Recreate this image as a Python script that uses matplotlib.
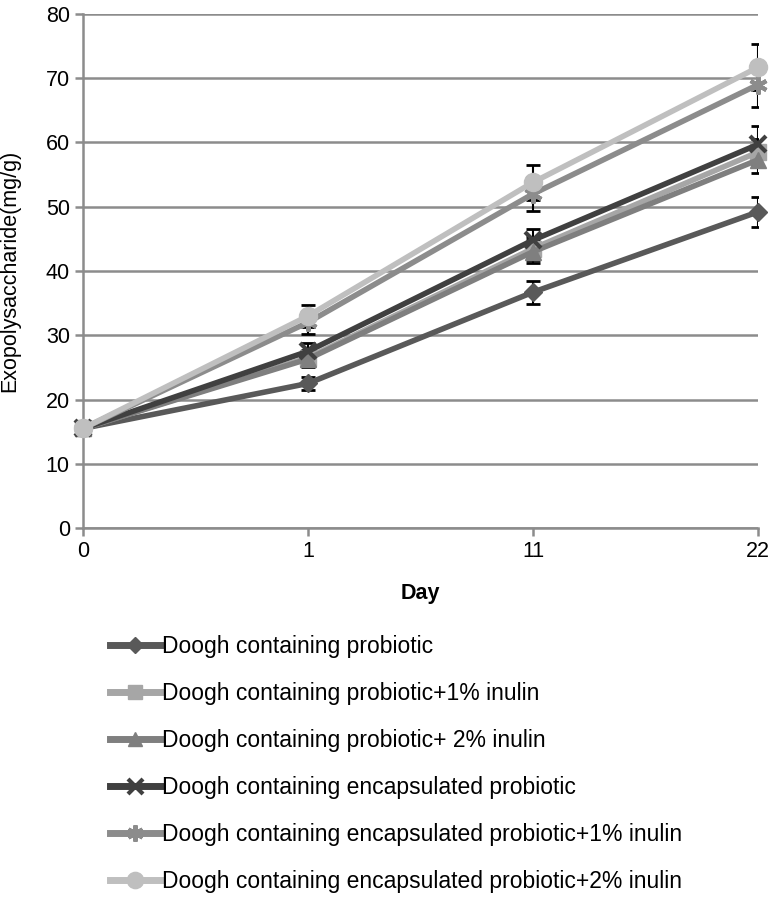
import matplotlib
matplotlib.use("Agg")
import matplotlib.pyplot as plt
import numpy as np

plt.rcParams['font.family'] = ['Liberation Sans', 'DejaVu Sans']

days = ["0", "1", "11", "22"]
labels = [
    "Doogh containing probiotic",
    "Doogh containing probiotic+1% inulin",
    "Doogh containing probiotic+ 2% inulin",
    "Doogh containing encapsulated probiotic",
    "Doogh containing encapsulated probiotic+1% inulin",
    "Doogh containing encapsulated probiotic+2% inulin",
]
probiotic = [15.5, 22.5, 36.7, 49.2]
probiotic_inulin1 = [15.5, 26.5, 43.5, 58.5]
probiotic_inulin2 = [15.5, 26.3, 43.0, 57.3]
encap = [15.5, 27.5, 44.8, 59.7]
encap_inulin1 = [15.5, 32.0, 52.0, 69.0]
encap_inulin2 = [15.5, 33.0, 53.8, 71.7]

err_probiotic = [0, 1.0, 1.8, 2.3]
err_inulin1 = [0, 1.2, 1.8, 2.0]
err_inulin2 = [0, 1.2, 1.8, 2.0]
err_encap = [0, 1.3, 1.8, 2.8]
err_encap1 = [0, 1.8, 2.7, 3.5]
err_encap2 = [0, 1.7, 2.7, 3.6]

series = [probiotic, probiotic_inulin1, probiotic_inulin2, encap, encap_inulin1, encap_inulin2]
errs = [err_probiotic, err_inulin1, err_inulin2, err_encap, err_encap1, err_encap2]
colors = ["#595959", "#a6a6a6", "#7f7f7f", "#404040", "#8c8c8c", "#bfbfbf"]
markers = ["D", "s", "^", "x", (6, 2, 0), "o"]
msizes = [9, 11, 11, 12, 13, 13]

fig = plt.figure(figsize=(7.73, 9.06), dpi=100)
ax = fig.add_axes([83/773, 1-528/906, (758-83)/773, (528-14)/906])

x = np.arange(len(days))
handles = []
for vals, e in zip(series, errs):
    ax.errorbar(x, vals, yerr=e, fmt='none', ecolor='black', elinewidth=1.5, capsize=5, capthick=2, zorder=2)
for vals, c, m, ms, lab in zip(series, colors, markers, msizes, labels):
    mew = 3 if m in ("x", (6, 2, 0)) else 1
    h, = ax.plot(x, vals, color=c, lw=4, marker=m, markersize=ms, markeredgewidth=mew,
                 markeredgecolor=c, markerfacecolor=c, label=lab, zorder=3, clip_on=False)
    handles.append(h)

ax.set_xlim(0, 3)
ax.set_ylim(0, 80)
ax.set_xticks(x)
ax.set_xticklabels(days)
ax.set_yticks(np.arange(0, 81, 10))
ax.grid(axis='y', color='#8c8c8c', lw=1.8)
ax.set_axisbelow(True)
for s in ['top', 'right']:
    ax.spines[s].set_visible(False)
for s in ['left', 'bottom']:
    ax.spines[s].set_color('#8c8c8c')
    ax.spines[s].set_linewidth(1.8)
ax.tick_params(axis='both', colors='#8c8c8c', labelcolor='black', labelsize=15.5, width=1.8, length=6)
ax.set_xlabel("Day", fontsize=15.5, fontweight='bold', labelpad=15)
ax.set_ylabel("Exopolysaccharide(mg/g)", fontsize=15.5, labelpad=18)

leg = fig.legend(handles=handles, labels=labels, loc='upper left', bbox_to_anchor=(101/773, 1-626/906),
                 frameon=False, fontsize=16.5, handlelength=2.2, handletextpad=0.05, labelspacing=1.05,
                 borderaxespad=0, markerscale=0.9)
for lh in leg.get_lines():
    lh.set_linewidth(5)

fig.savefig("out.png", dpi=100)
